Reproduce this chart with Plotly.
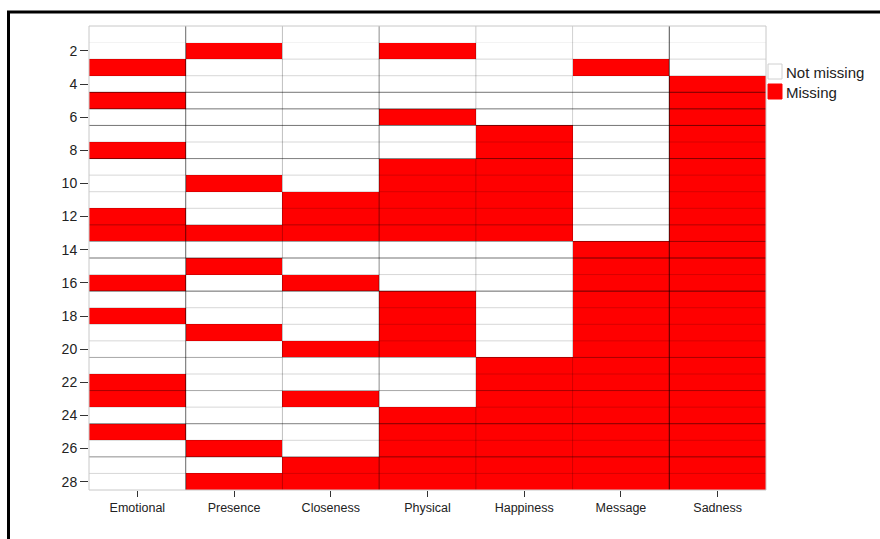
import plotly.graph_objects as go

# Variables (columns) and the cases (rows) where each one is missing
variables = ["Emotional", "Presence", "Closeness", "Physical", "Happiness", "Message", "Sadness"]
n_cases = 28
case_ids = list(range(1, n_cases + 1))

missing_emotional = [3, 5, 8, 12, 13, 16, 18, 22, 23, 25]
missing_presence = [2, 10, 13, 15, 19, 26, 28]
missing_closeness = [11, 12, 13, 16, 20, 23, 27, 28]
missing_physical = [2, 6, 9, 10, 11, 12, 13, 17, 18, 19, 20, 24, 25, 26, 27, 28]
missing_happiness = [7, 8, 9, 10, 11, 12, 13, 21, 22, 23, 24, 25, 26, 27, 28]
missing_message = [3, 14, 15, 16, 17, 18, 19, 20, 21, 22, 23, 24, 25, 26, 27, 28]
missing_sadness = list(range(4, 29))

y_tick_values = list(range(2, 29, 2))

missing_by_var = [missing_emotional, missing_presence, missing_closeness, missing_physical,
                  missing_happiness, missing_message, missing_sadness]

# 1 = missing, 0 = not missing
z = [[1 if case in miss else 0 for miss in missing_by_var] for case in case_ids]

fig = go.Figure()
fig.add_trace(go.Heatmap(
    z=z, x=list(range(len(variables))), y=case_ids,
    colorscale=[[0, "#ffffff"], [1, "#ff0000"]], zmin=0, zmax=1,
    showscale=False, hoverinfo="skip", xgap=0, ygap=0,
))

# Row separators: strength of the rule below each case row
strong_rules = {4: 0.55, 5: 0.55, 6: 0.55, 8: 0.5, 12: 0.3, 13: 0.4, 14: 0.55, 16: 0.6,
                20: 0.35, 22: 0.35, 24: 0.5, 26: 0.45}
shapes = []
for r in range(1, n_cases):
    alpha = strong_rules.get(r, 0.16 if r > 1 else 0.05)
    shapes.append(dict(type="line", xref="x", yref="y", x0=-0.5, x1=len(variables) - 0.5,
                       y0=r + 0.5, y1=r + 0.5, layer="above",
                       line=dict(color=f"rgba(0,0,0,{alpha})", width=1)))

# Column separators
col_rules = [0.6, 0.25, 0.45, 0.22, 0.18, 0.7]
for i, alpha in enumerate(col_rules):
    shapes.append(dict(type="line", xref="x", yref="y", x0=i + 0.5, x1=i + 0.5,
                       y0=0.5, y1=n_cases + 0.5, layer="above",
                       line=dict(color=f"rgba(0,0,0,{alpha})", width=1)))

# Plot frame
shapes.append(dict(type="rect", xref="paper", yref="paper", x0=0, x1=1, y0=0, y1=1,
                   layer="above", line=dict(color="#c8c8c8", width=1)))

# Outer figure frame
W, H = 880, 539
ml, mr, mt, mb = 89, 114, 26, 49
pw, ph = W - ml - mr, H - mt - mb
def px_x(px):
    return (px - ml) / pw
def px_y(py):
    return (H - mb - py) / ph
shapes.append(dict(type="rect", xref="paper", yref="paper",
                   x0=px_x(8.5), x1=px_x(900), y0=px_y(12), y1=px_y(600),
                   line=dict(color="#000000", width=3)))

# Legend swatches
legend_items = [("Not missing", "#ffffff"), ("Missing", "#ff0000")]
annotations = []
for k, (label, color) in enumerate(legend_items):
    top = 64 + k * 20
    shapes.append(dict(type="rect", xref="paper", yref="paper",
                       x0=px_x(768), x1=px_x(782), y0=px_y(top), y1=px_y(top + 15),
                       fillcolor=color, line=dict(color="#d0d0d0" if k == 0 else color, width=1)))
    annotations.append(dict(xref="paper", yref="paper", x=px_x(784), y=px_y(top + 8),
                            text=label, showarrow=False, xanchor="left", yanchor="middle",
                            font=dict(size=15, color="#222222")))

fig.update_layout(
    width=W, height=H,
    margin=dict(l=ml, r=mr, t=mt, b=mb),
    paper_bgcolor="white", plot_bgcolor="white",
    font=dict(family="Liberation Sans, Arial, sans-serif", color="#222222"),
    shapes=shapes, annotations=annotations,
    showlegend=False,
)
fig.update_xaxes(
    tickmode="array", tickvals=list(range(len(variables))), ticktext=variables,
    range=[-0.5, len(variables) - 0.5], showgrid=False, zeroline=False,
    ticks="outside", ticklen=6, tickcolor="#333333", tickfont=dict(size=12.5),
    showline=False, fixedrange=True,
)
fig.update_yaxes(
    tickmode="array", tickvals=y_tick_values,
    range=[n_cases + 0.5, 0.5], showgrid=False, zeroline=False,
    ticks="outside", ticklen=8, tickcolor="#333333", tickfont=dict(size=14),
    showline=False, fixedrange=True,
)

fig.write_html("out.html")
